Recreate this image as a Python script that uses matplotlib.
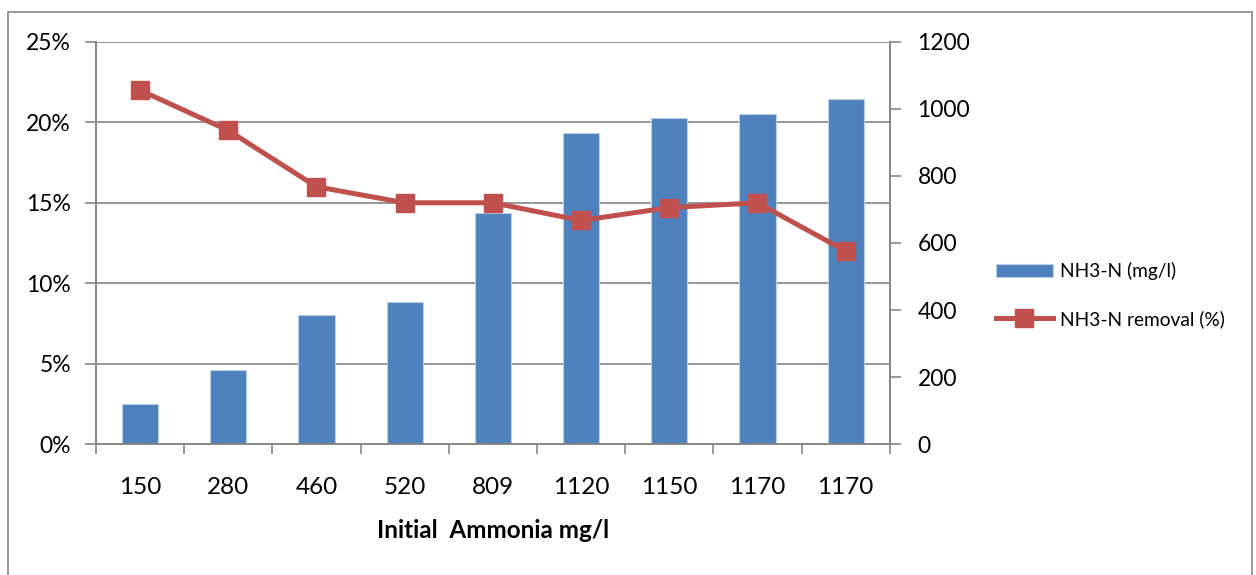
import matplotlib.pyplot as plt
import matplotlib.ticker as ticker
from matplotlib.patches import Rectangle
import numpy as np

# data
categories = ["150", "280", "460", "520", "809", "1120", "1150", "1170", "1170"]
nh3n_mgl = [120, 222, 385, 425, 690, 928, 972, 985, 1030]
removal_pct = [22.0, 19.5, 16.0, 15.0, 15.0, 13.9, 14.7, 15.0, 12.0]

plt.rcParams['font.family'] = ['Lato', 'DejaVu Sans']

blue = "#4F81BD"
red = "#C0504D"
grey = "#868686"

fig = plt.figure(figsize=(12.56, 5.75), dpi=100)
ax = fig.add_axes([0.0764, 0.2278, 0.632, 0.6992])
ax2 = ax.twinx()

x = np.arange(len(categories))

# bars on right axis, line on left axis
ax2.bar(x, nh3n_mgl, width=0.41, color=blue, edgecolor="#B9CDE5", linewidth=0.8,
        label="NH3-N (mg/l)", zorder=2)
ax2.set_ylim(0, 1200)
ax2.yaxis.set_major_locator(ticker.MultipleLocator(200))

ax.set_zorder(ax2.get_zorder() + 1)
ax.patch.set_visible(False)
ax.plot(x, removal_pct, color=red, linewidth=3.6, marker="s", markersize=13,
        label="NH3-N removal (%)", zorder=3)
ax.set_ylim(0, 25)
ax.yaxis.set_major_locator(ticker.MultipleLocator(5))
ax.yaxis.set_major_formatter(ticker.FuncFormatter(lambda v, p: f"{v:.0f}%"))
ax.set_xlim(-0.5, len(categories) - 0.5)

# gridlines (follow left axis ticks) drawn behind the bars
for v in np.arange(5, 26, 5):
    ax2.axhline(v / 25 * 1200, color=grey, linewidth=1.2, zorder=1)

ax.set_xticks(x)
ax.set_xticklabels(categories)
ax.set_xticks(np.arange(-0.5, len(categories), 1), minor=True)
ax.tick_params(axis="x", which="major", length=0, pad=24, labelsize=17.5)
ax.tick_params(axis="x", which="minor", length=7, width=1.2, color=grey)
ax.tick_params(axis="y", length=8, width=1.2, color=grey, labelsize=16.5, pad=10)
ax2.tick_params(axis="y", length=8, width=1.2, color=grey, labelsize=16.5, pad=12)
ax2.tick_params(axis="x", length=0)

for a in (ax, ax2):
    for s in a.spines.values():
        s.set_color(grey)
        s.set_linewidth(1.2)
    a.spines["top"].set_visible(False)

ax.set_xlabel("Initial  Ammonia mg/l", fontsize=17.5, fontweight="bold", labelpad=15)

h1, l1 = ax2.get_legend_handles_labels()
h2, l2 = ax.get_legend_handles_labels()
fig.legend(h1 + h2, l1 + l2, loc="center left", bbox_to_anchor=(0.779, 0.487),
           frameon=False, fontsize=13.8, handlelength=3.0, labelspacing=1.55,
           handletextpad=0.35)

# outer chart border
fig.patches.append(Rectangle((0.0064, -0.01), 0.9904, 0.99, transform=fig.transFigure,
                             fill=False, edgecolor=grey, linewidth=1.2))

fig.savefig("out.png", dpi=100)
